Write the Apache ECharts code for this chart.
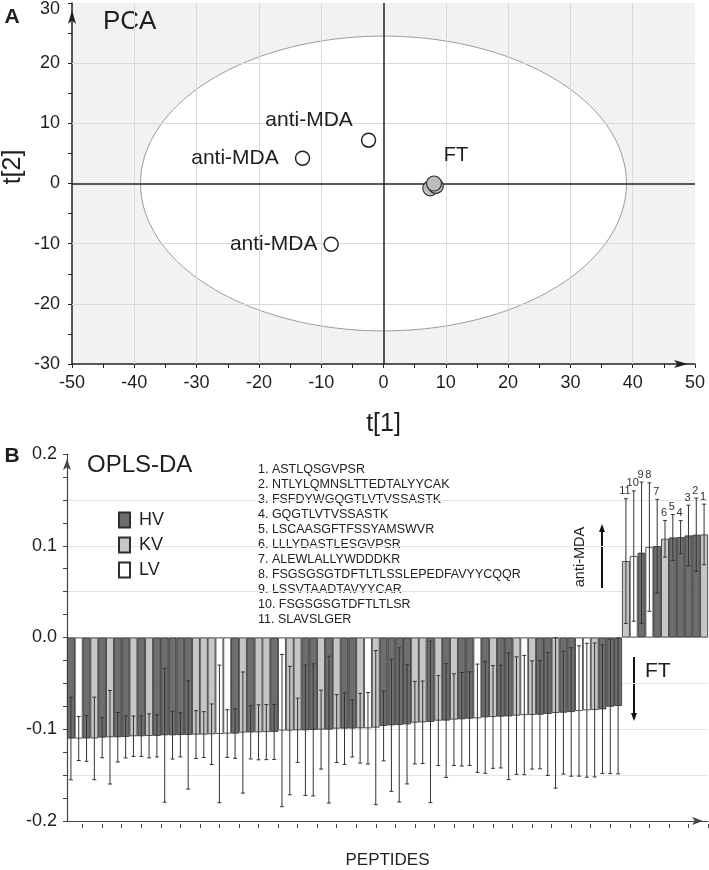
<!DOCTYPE html>
<html>
<head>
<meta charset="utf-8">
<script src="https://cdn.jsdelivr.net/npm/echarts@6/dist/echarts.min.js"></script>
<style>
html, body { margin: 0; padding: 0; background: #fff; }
#chart { width: 709px; height: 870px; }
</style>
</head>
<body>
<div id="chart"></div>
<script>
// ---- A: PCA score plot
const antiX = [-13.0, -2.4, -8.4];
const antiY = [4.2, 7.2, -10.1];
const ftX = [7.5, 8.4, 8.1];
const ftY = [-0.8, -0.4, 0.0];
const ellipseAxes = [39, 24.5]; // semi axes of the T2 ellipse
const gridX = [-40, -30, -20, -10, 10, 20, 30, 40];
const gridY = [-20, -10, 10, 20];

// ---- B: OPLS-DA loadings, one bar per peptide
const loadings = [
    -0.1101, -0.1101, -0.1100, -0.1100, -0.1091, -0.1087, -0.1087, -0.1083, -0.1076, -0.1076,
    -0.1072, -0.1072, -0.1065, -0.1065, -0.1062, -0.1062, -0.1058, -0.1058, -0.1054, -0.1051,
    -0.1047, -0.1047, -0.1036, -0.1034, -0.1033, -0.1031, -0.1029, -0.1014, -0.1014, -0.1011,
    -0.1011, -0.1007, -0.1004, -0.1004, -0.0993, -0.0993, -0.0992, -0.0989, -0.0989, -0.0982,
    -0.0964, -0.0957, -0.0953, -0.0946, -0.0928, -0.0924, -0.0920, -0.0906, -0.0905, -0.0895,
    -0.0891, -0.0884, -0.0880, -0.0870, -0.0866, -0.0862, -0.0859, -0.0851, -0.0845, -0.0844,
    -0.0841, -0.0833, -0.0822, -0.0819, -0.0812, -0.0801, -0.0793, -0.0790, -0.0783, -0.0754,
    -0.0746,
    0.0833, 0.0888, 0.0924, 0.0986, 0.0996, 0.1076, 0.1090, 0.1094, 0.1112, 0.1120, 0.1123
]
const loadingErr = [
    0.045, 0.024, 0.025, 0.045, 0.022, 0.051, 0.027, 0.023, 0.022, 0.022,
    0.024, 0.023, 0.073, 0.026, 0.024, 0.059, 0.026, 0.025, 0.033, 0.075,
    0.026, 0.027, 0.066, 0.029, 0.030, 0.030, 0.030, 0.083, 0.070, 0.035,
    0.071, 0.072, 0.043, 0.080, 0.037, 0.039, 0.031, 0.038, 0.039, 0.084,
    0.038, 0.072, 0.084, 0.065, 0.045, 0.045, 0.088, 0.049, 0.062, 0.050,
    0.051, 0.051, 0.059, 0.061, 0.056, 0.056, 0.069, 0.064, 0.065, 0.059,
    0.059, 0.067, 0.082, 0.067, 0.070, 0.071, 0.073, 0.073, 0.070, 0.073,
    0.074,
    0.068, 0.071, 0.077, 0.070, 0.051, 0.020, 0.025, 0.018, 0.033, 0.040, 0.033
]
const classes = [
    'HV', 'LV', 'HV', 'KV', 'HV', 'KV', 'HV', 'HV', 'KV', 'HV',
    'KV', 'HV', 'HV', 'HV', 'HV', 'HV', 'KV', 'KV', 'KV', 'LV',
    'LV', 'HV', 'KV', 'HV', 'KV', 'KV', 'HV', 'LV', 'KV', 'KV',
    'HV', 'HV', 'KV', 'HV', 'KV', 'HV', 'HV', 'KV', 'LV', 'KV',
    'HV', 'HV', 'HV', 'HV', 'KV', 'KV', 'HV', 'KV', 'HV', 'KV',
    'HV', 'HV', 'LV', 'HV', 'KV', 'HV', 'HV', 'KV', 'LV', 'KV',
    'HV', 'HV', 'KV', 'HV', 'HV', 'LV', 'LV', 'KV', 'HV', 'HV',
    'HV',
    'KV', 'LV', 'HV', 'LV', 'HV', 'KV', 'HV', 'HV', 'HV', 'HV', 'KV'
]
// numbers written over the last (anti-MDA) bars
const topNumbers = [11, 10, 9, 8, 7, 6, 5, 4, 3, 2, 1]
const peptides = [
    'ASTLQSGVPSR',
    'NTLYLQMNSLTTEDTALYYCAK',
    'FSFDYWGQGTLVTVSSASTK',
    'GQGTLVTVSSASTK',
    'LSCAASGFTFSSYAMSWVR',
    'LLLYDASTLESGVPSR',
    'ALEWLALLYWDDDKR',
    'FSGSGSGTDFTLTLSSLEPEDFAVYYCQQR',
    'LSSVTAADTAVYYCAR',
    'FSGSGSGTDFTLTLSR',
    'SLAVSLGER'
]
const groupNames = ['HV', 'KV', 'LV']
const groupColors = { HV: '#6e6e6e', KV: '#c6c6c6', LV: '#ffffff' }

const FONT = 'Liberation Sans, Arial, sans-serif'
const INK = '#1e1e1e'

// bar grid layout
const bLeft = 67, bRight = 1, bTop = 454, bBottom = 46
const barW = (709 - bLeft - bRight) / loadings.length

const chart = echarts.init(document.getElementById('chart'))

const ids = loadings.map((v, i) => String(i + 1))
const firstPos = loadings.length - topNumbers.length

const barSeries = groupNames.map(g => ({
    name: g,
    type: 'bar',
    xAxisIndex: 1,
    yAxisIndex: 1,
    stack: 'all',
    barWidth: '100%',
    data: loadings.map((v, i) => classes[i] === g ? v : '-'),
    itemStyle: { color: groupColors[g], borderColor: '#2e2e2e', borderWidth: 0.8 },
    emphasis: { disabled: true }
}))

const errSeries = {
    type: 'custom',
    xAxisIndex: 1,
    yAxisIndex: 1,
    z: 5,
    silent: true,
    data: loadings.map((v, i) => [i, v - loadingErr[i], v + loadingErr[i],
        i >= firstPos ? topNumbers[i - firstPos] : 0]),
    renderItem: function (params, api) {
        const x = api.value(0)
        const lo = api.coord([x, api.value(1)])
        const hi = api.coord([x, api.value(2)])
        const half = api.size([1, 0])[0] * 0.25
        const st = { stroke: '#333', lineWidth: 1 }
        const kids = [
            { type: 'line', shape: { x1: lo[0], y1: lo[1], x2: hi[0], y2: hi[1] }, style: st },
            { type: 'line', shape: { x1: lo[0] - half, y1: lo[1], x2: lo[0] + half, y2: lo[1] }, style: st },
            { type: 'line', shape: { x1: hi[0] - half, y1: hi[1], x2: hi[0] + half, y2: hi[1] }, style: st }
        ]
        const n = api.value(3)
        if (n) {
            kids.push({
                type: 'text', x: hi[0] - 1, y: hi[1] - 2,
                style: { text: String(n), fontSize: 11, fontFamily: FONT, fill: '#333', align: 'center', verticalAlign: 'bottom' }
            })
        }
        return { type: 'group', children: kids }
    }
}

// ellipse drawn through the axes scale, bottom layer
const ellipseSeries = {
    type: 'custom',
    xAxisIndex: 0,
    yAxisIndex: 0,
    zlevel: 0,
    z: 1,
    silent: true,
    data: [[0, 0]],
    renderItem: function (params, api) {
        const c = api.coord([api.value(0), api.value(1)])
        const s = api.size(ellipseAxes)
        const pts = []
        for (let i = 0; i <= 180; i++) {
            const t = i / 180 * Math.PI * 2
            pts.push([c[0] + s[0] * Math.cos(t), c[1] + s[1] * Math.sin(t)])
        }
        return { type: 'polygon', shape: { points: pts }, style: { fill: '#fff', stroke: '#9c9c9c', lineWidth: 1 } }
    }
}

// label placement for the three anti-MDA points
const antiLabelStyle = [
    { position: 'left', distance: 16, offset: [0, 0] },
    { position: 'left', distance: 8, offset: [0, -20] },
    { position: 'left', distance: 6, offset: [0, 0] }
]

const antiSeries = {
    type: 'scatter',
    xAxisIndex: 0,
    yAxisIndex: 0,
    zlevel: 1,
    z: 3,
    symbolSize: 14,
    itemStyle: { color: '#fff', borderColor: '#222', borderWidth: 1.5, opacity: 1 },
    data: antiX.map((x, i) => ({
        value: [x, antiY[i]],
        label: Object.assign({ show: true, formatter: 'anti-MDA', fontSize: 21, fontFamily: FONT, color: INK }, antiLabelStyle[i])
    })),
    // the two zero axes crossing the plot
    markLine: {
        silent: true,
        zlevel: 1,
        z: 1,
        symbol: 'none',
        label: { show: false },
        lineStyle: { color: '#222', width: 1.5, type: 'solid' },
        data: [{ xAxis: 0 }, { yAxis: 0 }]
    }
}

const ftSeries = {
    type: 'scatter',
    xAxisIndex: 0,
    yAxisIndex: 0,
    zlevel: 1,
    z: 4,
    symbolSize: 15,
    itemStyle: { color: '#bdbdbd', borderColor: '#333', borderWidth: 1.2, opacity: 1 },
    data: ftX.map((x, i) => ({
        value: [x, ftY[i]],
        label: i === ftX.length - 1 ? { show: true, formatter: 'FT', position: 'top', distance: 10, offset: [22, 0], fontSize: 20, fontFamily: FONT, color: INK } : { show: false }
    })),
    // grid lines, kept above the ellipse fill
    markLine: {
        silent: true,
        zlevel: 1,
        z: 0,
        symbol: 'none',
        label: { show: false },
        lineStyle: { color: '#d9d9d9', width: 1, type: 'solid' },
        data: gridX.map(v => ({ xAxis: v })).concat(gridY.map(v => ({ yAxis: v })))
    }
}

function arrow(x, y1, y2) {
    // y1 tail, y2 tip
    const dir = y2 < y1 ? 1 : -1
    return {
        type: 'group',
        children: [
            { type: 'line', shape: { x1: x, y1: y1, x2: x, y2: y2 + dir * 6 }, style: { stroke: '#111', lineWidth: 2 } },
            { type: 'polygon', shape: { points: [[x, y2], [x - 3, y2 + dir * 8], [x + 3, y2 + dir * 8]] }, style: { fill: '#111' } }
        ]
    }
}

const graphics = [
    { type: 'text', x: 12, y: 17, style: { text: 'A', fontSize: 21, fontWeight: 'bold', fontFamily: FONT, fill: INK, align: 'center', verticalAlign: 'middle' } },
    { type: 'text', x: 103, y: 22, style: { text: 'PCA', fontSize: 26, fontFamily: FONT, fill: INK, verticalAlign: 'middle' } },
    { type: 'text', x: 13, y: 167, rotation: Math.PI / 2, style: { text: 't[2]', fontSize: 25, fontFamily: FONT, fill: INK, align: 'center', verticalAlign: 'middle' } },
    { type: 'text', x: 12, y: 456, style: { text: 'B', fontSize: 21, fontWeight: 'bold', fontFamily: FONT, fill: INK, align: 'center', verticalAlign: 'middle' } },
    { type: 'text', x: 87, y: 465, style: { text: 'OPLS-DA', fontSize: 24, fontFamily: FONT, fill: INK, verticalAlign: 'middle' } },
    { type: 'text', x: 580, y: 557, rotation: Math.PI / 2, style: { text: 'anti-MDA', fontSize: 14.5, fontFamily: FONT, fill: INK, align: 'center', verticalAlign: 'middle' } },
    arrow(602, 588, 524),
    { type: 'text', x: 645, y: 671, style: { text: 'FT', fontSize: 21, fontFamily: FONT, fill: INK, verticalAlign: 'middle' } },
    arrow(634, 657, 721)
]
peptides.forEach((p, i) => {
    graphics.push({
        type: 'text', x: 258, y: 470 + i * 15,
        style: { text: (i + 1) + '. ' + p, fontSize: 12.5, fontFamily: FONT, fill: '#222', verticalAlign: 'middle' }
    })
})

const option = {
    animation: false,
    textStyle: { fontFamily: FONT },
    grid: [
        { left: 72, right: 14, top: 0.5, bottom: 506, show: true, backgroundColor: '#f2f2f2', borderWidth: 0 },
        { left: bLeft, right: bRight, top: bTop, bottom: bBottom },
        { left: bLeft + 2 * barW, right: bRight, top: bTop, bottom: bBottom }
    ],
    legend: {
        data: groupNames,
        orient: 'vertical',
        left: 113,
        top: 506,
        icon: 'rect',
        itemWidth: 11,
        itemHeight: 15,
        itemGap: 7,
        selectedMode: false,
        textStyle: { fontSize: 18, color: INK, fontFamily: FONT, padding: [0, 0, 0, 4] }
    },
    xAxis: [
        {
            gridIndex: 0, type: 'value', min: -50, max: 50, interval: 10,
            axisLine: { onZero: false, lineStyle: { color: '#222', width: 1.5 }, symbol: ['none', 'arrow'], symbolSize: [6, 14], symbolOffset: [0, -7] },
            axisTick: { length: 4, lineStyle: { color: '#222' } },
            minorTick: { show: true, splitNumber: 2, length: 4, lineStyle: { color: '#222' } },
            axisLabel: { fontSize: 18, color: INK, margin: 10 },
            splitLine: { show: false },
            name: 't[1]', nameLocation: 'middle', nameGap: 48,
            nameTextStyle: { fontSize: 25, color: INK }
        },
        {
            gridIndex: 1, type: 'category', data: ids,
            axisLine: { onZero: false, lineStyle: { color: '#444', width: 1.2 }, symbol: ['none', 'arrow'], symbolSize: [6, 11], symbolOffset: [0, -5] },
            axisTick: { show: false },
            axisLabel: { show: false },
            name: 'PEPTIDES', nameLocation: 'middle', nameGap: 31,
            nameTextStyle: { fontSize: 17, color: INK }
        },
        {
            gridIndex: 2, type: 'value', min: 0, max: 80, interval: 2.5,
            axisLine: { show: false, onZero: false },
            axisTick: { show: true, length: 4, lineStyle: { color: '#444' } },
            axisLabel: { show: false },
            splitLine: { show: false }
        }
    ],
    yAxis: [
        {
            gridIndex: 0, type: 'value', min: -30, max: 30, interval: 10,
            axisLine: { show: true, onZero: false, lineStyle: { color: '#222', width: 1.5 }, symbol: ['none', 'arrow'], symbolSize: [6, 14], symbolOffset: [0, -7] },
            axisTick: { show: true, length: 4, lineStyle: { color: '#222' } },
            minorTick: { show: true, splitNumber: 2, length: 4, lineStyle: { color: '#222' } },
            axisLabel: {
                fontSize: 18, color: INK, margin: 12,
                formatter: v => v === 30 ? '{t|30}' : String(v),
                rich: { t: { fontSize: 18, color: INK, padding: [12, 0, 0, 0] } }
            },
            splitLine: { show: false }
        },
        {
            gridIndex: 1, type: 'value', min: -0.2, max: 0.2, interval: 0.05,
            axisLine: { show: true, onZero: false, lineStyle: { color: '#444', width: 1.2 }, symbol: ['none', 'arrow'], symbolSize: [6, 11], symbolOffset: [0, -5] },
            axisTick: { show: true, length: 4, lineStyle: { color: '#444' } },
            minorTick: { show: true, splitNumber: 2, length: 4, lineStyle: { color: '#444' } },
            axisLabel: {
                fontSize: 18, color: INK, margin: 10,
                formatter: v => Math.round(v * 100) % 10 === 0 ? v.toFixed(1) : ''
            },
            splitLine: { show: true, showMaxLine: false, lineStyle: { color: '#e4e4e4' } }
        },
        { gridIndex: 2, type: 'value', show: false }
    ],
    series: [ellipseSeries, antiSeries, ftSeries].concat(barSeries, [errSeries]),
    graphic: graphics
}

chart.setOption(option)
</script>
</body>
</html>
